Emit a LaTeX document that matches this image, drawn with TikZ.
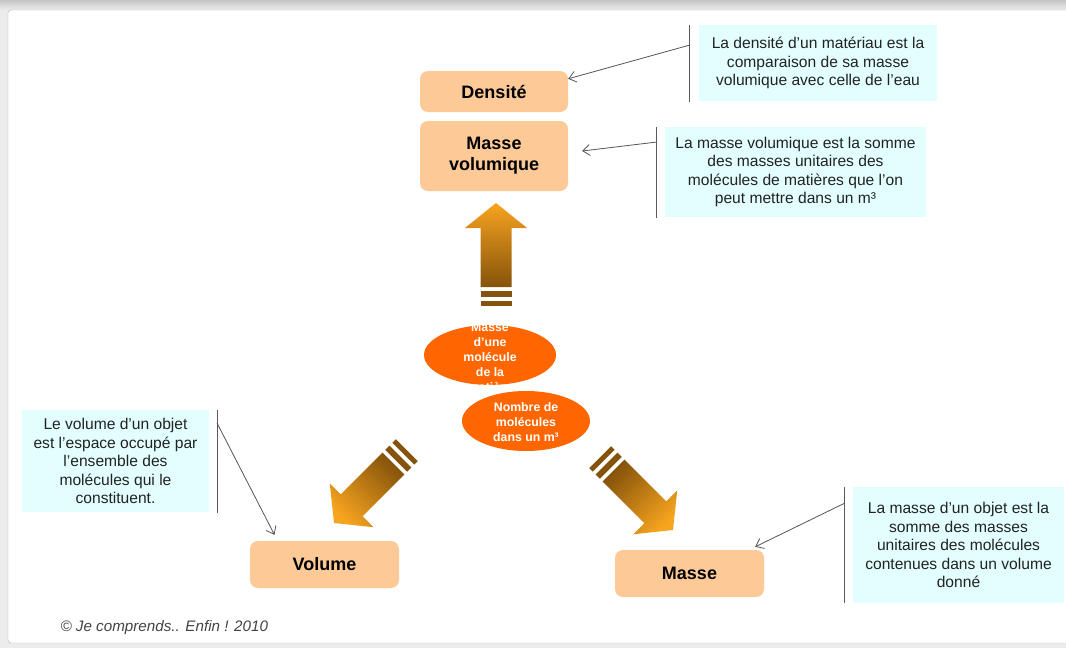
\documentclass[tikz,border=0pt]{standalone}
\usepackage{fontspec}
\setmainfont{Liberation Sans}
\usetikzlibrary{arrows.meta,shapes.geometric,calc}
\definecolor{peach}{HTML}{FDCA97}
\definecolor{lcyan}{HTML}{E3FEFF}
\definecolor{elor}{HTML}{FF6600}
\definecolor{arror}{HTML}{F7A41F}
\definecolor{arrbr}{HTML}{85530B}
\definecolor{txt}{HTML}{222222}
\definecolor{connc}{HTML}{555555}
\newcommand\bigarrow[4]{%
  \begin{scope}[shift={(#1)}, x={(#2)}, y={(#3)}]
    \shade[top color=arror,bottom color=arrbr,shading angle=#4]
      (0,0) -- (25,31) -- (25,15.5) -- (84,15.5) -- (84,-15.5) -- (25,-15.5) -- (25,-31) -- cycle;
    \fill[arrbr] (88,-15.5) -- (94,-15.5) -- (94,15.5) -- (88,15.5) -- cycle;
    \fill[arrbr] (98,-15.5) -- (103,-15.5) -- (103,15.5) -- (98,15.5) -- cycle;
  \end{scope}}
\begin{document}
\begin{tikzpicture}[x=1pt,y=-1pt,
  box/.style={fill=peach, rounded corners=8pt, inner sep=0pt, align=center,
    font=\bfseries\fontsize{18}{21}\selectfont, text=black},
  callout/.style={fill=lcyan, inner sep=0pt, align=center,
    font=\fontsize{15.6}{18.5}\selectfont, text=txt},
  bracket/.style={draw=gray!70!black, line width=1pt},
  conn/.style={draw=connc, line width=0.8pt, -{Straight Barb[length=7pt,width=11pt]}},
  oval/.style={ellipse, fill=elor, inner sep=0pt},
  etext/.style={align=center, text=white, font=\bfseries\fontsize{12.3}{15}\selectfont}]
\useasboundingbox (0,0) rectangle (1066,648);
% frame
\fill[gray!15] (0,0) rectangle (1066,648);
\shade[top color=gray!45,bottom color=gray!15] (0,0) rectangle (1066,10);
\draw[fill=white,draw=gray!60,rounded corners=3pt] (8,10) rectangle (1075,643);

% big arrows
\bigarrow{496,203}{0pt,-1pt}{1pt,0pt}{0}
\bigarrow{334,523}{0.7071pt,0.7071pt}{0.7071pt,-0.7071pt}{135}
\bigarrow{673,530}{-0.7071pt,0.7071pt}{0.7071pt,0.7071pt}{-135}

% boxes
\node[box, minimum width=148pt, minimum height=41pt] (dens) at (494,91.5) {Densité};
\node[box, minimum width=148pt, minimum height=70pt] (mv) at (494,156) {Masse\\volumique};
\node[box, minimum width=149pt, minimum height=47pt] (vol) at (324.5,564.5) {Volume};
\node[box, minimum width=149pt, minimum height=47pt] (masse) at (689.5,573.5) {Masse};

% ellipses
\node[oval, minimum width=132pt, minimum height=60pt] (e1) at (490,355) {};
\node[etext] (e1t) at (490,357) {Masse\\d’une\\molécule\\de la\\matière};
\node[oval, minimum width=128pt, minimum height=60pt] (e2) at (526,421) {};
\node[etext] (e2t) at (526,422) {Nombre de\\molécules\\dans un m³};

% callouts
\node[callout, minimum width=238pt, minimum height=76pt] (c1) at (818,63)
  {La densité d’un matériau est la\\comparaison de sa masse\\volumique avec celle de l’eau};
\node[callout, minimum width=261pt, minimum height=90pt] (c2) at (795.5,172)
  {La masse volumique est la somme\\des masses unitaires des\\molécules de matières que l’on\\peut mettre dans un m³};
\node[callout, minimum width=187pt, minimum height=102pt] (c3) at (115.5,461)
  {Le volume d’un objet\\est l’espace occupé par\\l’ensemble des\\molécules qui le\\constituent.};
\node[callout, minimum width=211pt, minimum height=116pt] (c4) at (958.5,545)
  {La masse d’un objet est la\\somme des masses\\unitaires des molécules\\contenues dans un volume\\donné};

% brackets
\draw[bracket] ([xshift=-9pt]c1.north west) -- ([xshift=-9pt,yshift=-1pt]c1.south west);
\draw[bracket] ([xshift=-8pt]c2.north west) -- ([xshift=-8pt,yshift=-1pt]c2.south west);
\draw[bracket] ([xshift=8pt]c3.north east) -- ([xshift=8pt,yshift=-1pt]c3.south east);
\draw[bracket] ([xshift=-8pt]c4.north west) -- ([xshift=-8pt]c4.south west);

% connector start points
\coordinate (s1) at (690,45);
\coordinate (s2) at (657,142);
\coordinate (s3) at (217,423);
\coordinate (s4) at (845,503);

\draw[conn] (s1) -- ([yshift=-8pt]dens.north east);
\draw[conn] (s2) -- ([xshift=14pt,yshift=5pt]mv.east);
\draw[conn] (s3) -- ([xshift=-50pt,yshift=6pt]vol.north);
\draw[conn] (s4) -- ([xshift=-9pt,yshift=3pt]masse.north east);

% footer
\node[anchor=west, font=\itshape\fontsize{15.2}{17}\selectfont, text=txt!85] (foot) at (57,628)
  {© Je comprends.. Enfin ! 2010};
\end{tikzpicture}
\end{document}
